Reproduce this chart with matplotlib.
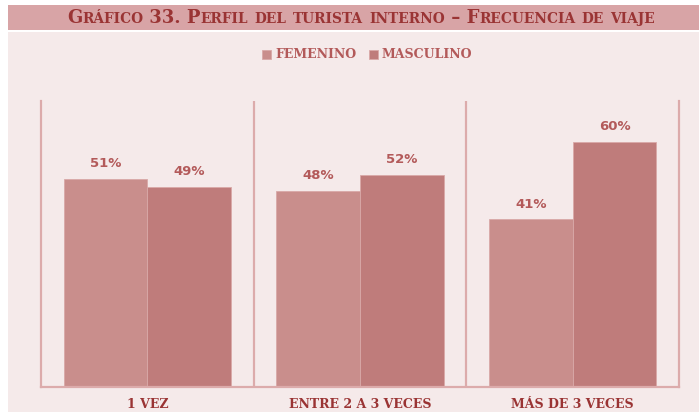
import matplotlib
matplotlib.use("Agg")
import matplotlib.pyplot as plt
import numpy as np
from matplotlib.patches import Rectangle

# data
categorias = ["1 VEZ", "ENTRE 2 A 3 VECES", "MÁS DE 3 VECES"]
femenino = [51, 48, 41]
masculino = [49, 52, 60]
series = ["FEMENINO", "MASCULINO"]
titulo = "Gráfico 33. Perfil del turista interno – Frecuencia de viaje"

c_fem = "#c98e8c"
c_mas = "#bf7c7b"
c_fondo = "#f5eaea"
c_banda = "#d8a4a6"
c_linea = "#dcabab"
c_texto = "#9a3434"
c_etiq = "#b35a5a"

W, H = 699, 412
fig = plt.figure(figsize=(W / 100, H / 100), dpi=100)
fig.patch.set_facecolor("white")

# background panels
fig.add_artist(Rectangle((8 / W, 0), 1, (H - 32) / H, transform=fig.transFigure,
                         fc=c_fondo, ec="none", zorder=0))
fig.add_artist(Rectangle((8 / W, (H - 30) / H), 1, 25 / H, transform=fig.transFigure,
                         fc=c_banda, ec="none", zorder=0))

ax = fig.add_axes([41 / W, (H - 387) / H, (679 - 41) / W, (387 - 101) / H])
ax.set_facecolor("none")

x = np.arange(len(categorias))
w = 0.394
b1 = ax.bar(x - w / 2, femenino, w, color=c_fem, edgecolor="#d9a9a8", linewidth=0.6)
b2 = ax.bar(x + w / 2, masculino, w, color=c_mas, edgecolor="#d9a9a8", linewidth=0.6)

for bars, vals in ((b1, femenino), (b2, masculino)):
    for r, v in zip(bars, vals):
        ax.annotate(f"{v}%", (r.get_x() + r.get_width() / 2, v), xytext=(0, 11),
                    textcoords="offset points", ha="center", va="center",
                    fontsize=9.5, fontweight="bold", color=c_etiq,
                    family="DejaVu Sans")

ax.set_xlim(-0.5, len(categorias) - 0.5)
ax.set_ylim(0, 70)
for xs in x[:-1] + 0.5:
    ax.axvline(xs, color=c_linea, lw=1.6)
for s in ("left", "right", "bottom"):
    ax.spines[s].set_color(c_linea)
    ax.spines[s].set_linewidth(1.6)
ax.spines["top"].set_visible(False)
ax.set_yticks([])
ax.set_xticks(x)
ax.set_xticklabels(categorias, fontsize=9, fontweight="bold", color=c_texto,
                   family="DejaVu Serif")
ax.tick_params(axis="x", length=0, pad=8)

# legend
fig.legend([b1, b2], series, loc="center", bbox_to_anchor=(367 / W, (H - 55) / H),
           ncol=2, frameon=False, handlelength=0.75, handleheight=0.75,
           handletextpad=0.3, columnspacing=1.0,
           prop={"family": "DejaVu Serif", "weight": "bold", "size": 9},
           labelcolor=c_etiq)

# title in small caps: pieces of upper / lowered text placed side by side
runs = []
for ch in titulo:
    big = not ch.islower()
    if runs and runs[-1][1] == big:
        runs[-1][0] += ch.upper()
    else:
        runs.append([ch.upper(), big])

renderer = fig.canvas.get_renderer()
x0 = 0.0
objs = []
for txt, big in runs:
    t = fig.text(x0, (H - 23) / H, txt, fontsize=13 if big else 9.9,
                 fontweight="bold", color=c_texto, family="DejaVu Serif",
                 va="baseline", ha="left")
    objs.append(t)
    x0 += t.get_window_extent(renderer).width / W
start = 361 / W - x0 / 2
for t in objs:
    t.set_x(t.get_position()[0] + start)

fig.savefig("out.png", dpi=100)
